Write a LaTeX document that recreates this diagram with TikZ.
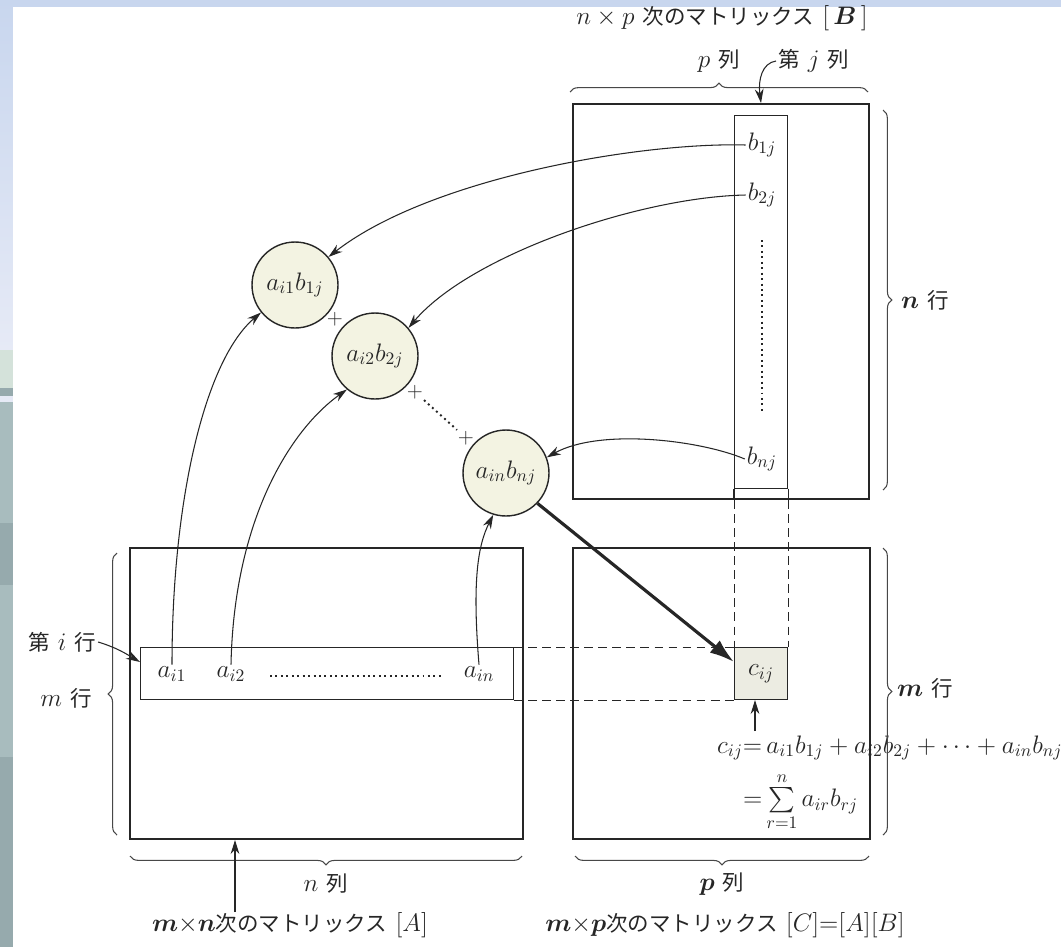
\documentclass[tikz,border=0pt]{standalone}
\usepackage{amsmath,bm}
\usepackage{fontspec}
\newfontfamily\jp{Noto Sans CJK JP}[Scale=0.85]
\usetikzlibrary{decorations.pathreplacing,arrows.meta,calc}
\definecolor{ink}{RGB}{38,38,38}
\definecolor{circfill}{RGB}{243,243,226}
\definecolor{cfill}{RGB}{236,236,226}
\definecolor{bgtop}{RGB}{200,214,238}
\definecolor{bgmid}{RGB}{230,234,246}
\definecolor{bggreen}{RGB}{212,226,218}
\definecolor{bgdark}{RGB}{150,170,173}
\definecolor{bglight}{RGB}{168,188,190}
\newcommand{\fs}{\fontsize{14.4}{16}\selectfont}
\tikzset{
  mat/.style={rectangle, draw=ink, line width=1.2pt, anchor=north west, inner sep=0pt},
  thinbox/.style={rectangle, draw=ink, line width=0.6pt, anchor=north west, inner sep=0pt},
  prod/.style={circle, draw=ink, line width=0.8pt, fill=circfill, minimum size=1.72cm, inner sep=0pt, font=\fs, text=ink},
  lbl/.style={font=\fs, text=ink, inner sep=1pt},
  plus/.style={font=\fontsize{12}{14}\selectfont, text=ink, inner sep=0.5pt},
  conn/.style={draw=ink, line width=0.6pt, -{Stealth[length=8pt,width=5pt]}},
  brc/.style={draw=ink!85, line width=0.6pt, decorate, decoration={brace, amplitude=5pt}},
  guide/.style={draw=ink, line width=0.5pt, dash pattern=on 5pt off 3pt},
}
\begin{document}
\begin{tikzpicture}[x=0.02cm, y=-0.02cm]
\useasboundingbox (0,0) rectangle (1061,947);
% background frame
\fill[bgtop] (0,0) rectangle (1061,7);
\shade[top color=bgtop, bottom color=bgmid] (0,0) rectangle (13,350);
\fill[bggreen] (0,350) rectangle (13,388);
\fill[bgdark] (0,388) rectangle (13,396);
\fill[bgmid] (0,396) rectangle (13,402);
\fill[bglight] (0,402) rectangle (13,523);
\fill[bgdark] (0,523) rectangle (13,585);
\fill[bglight] (0,585) rectangle (13,757);
\fill[bgdark] (0,757) rectangle (13,947);
\fill[white] (13,7) rectangle (1061,947);

% matrices
\node[mat, minimum width=5.92cm, minimum height=7.90cm] (B) at (572,103) {};
\node[mat, minimum width=7.86cm, minimum height=5.82cm] (A) at (129,547) {};
\node[mat, minimum width=5.94cm, minimum height=5.82cm] (C) at (572,547) {};
\node[thinbox, minimum width=1.06cm, minimum height=7.46cm] (col) at (734,115) {};
\node[thinbox, minimum width=7.46cm, minimum height=1.04cm] (row) at (140,647) {};
\node[thinbox, fill=cfill, minimum width=1.06cm, minimum height=1.04cm] (cij) at (734,647) {};
\node[lbl] at (cij.center) {$c_{ij}$};

% column sides down to B bottom, then guides
\draw[ink, line width=0.6pt] (col.south west) -- (col.south west |- B.south);
\draw[ink, line width=0.6pt] (col.south east) -- (col.south east |- B.south);
\draw[guide] (col.south west |- B.south) -- (cij.north west);
\draw[guide] (col.south east |- B.south) -- (cij.north east);
\draw[guide] (row.north east) -- (cij.north west);
\draw[guide] (row.south east) -- (cij.south west);

% entries of B
\node[lbl] (b1) at (762,145) {$b_{1j}$};
\node[lbl] (b2) at (762,195) {$b_{2j}$};
\node[lbl] (bn) at (762,459) {$b_{nj}$};
\coordinate (bd1) at (762,240);
\coordinate (bd2) at (762,413);
\draw[ink, line width=1.1pt, dotted] (bd1) -- (bd2);

% entries of A row
\node[lbl] (a1) at (172,674) {$a_{i1}$};
\node[lbl] (a2) at (231,674) {$a_{i2}$};
\node[lbl] (an) at (479,674) {$a_{in}$};
\coordinate (ad1) at (270,676);
\coordinate (ad2) at (442,676);
\draw[ink, line width=1.1pt, dotted] (ad1) -- (ad2);

% products
\node[prod] (c1) at (295,285) {$a_{i1}b_{1j}$};
\node[prod] (c2) at (375,356) {$a_{i2}b_{2j}$};
\node[prod] (c3) at (506,473) {$a_{in}b_{nj}$};
\node[plus] (p1) at (335,319) {$+$};
\node[plus] (p2) at (415,392) {$+$};
\node[plus] (p3) at (466,438) {$+$};
\draw[ink, line width=1.1pt, dotted] (p2) -- (p3);

% connectors
\draw[conn] (b1.west) .. controls (640,142) and (430,178) .. (c1.40);
\draw[conn] (b2.west) .. controls (640,197) and (470,255) .. (c2.40);
\draw[conn] (bn.west) .. controls (700,440) and (600,428) .. (c3.21);
\draw[conn] (a1.north) .. controls (172,500) and (205,360) .. (c1.219);
\draw[conn] (a2.north) .. controls (234,520) and (290,430) .. (c2.230);
\draw[conn] (an.north) .. controls (472,580) and (478,545) .. (c3.253);
\draw[draw=ink, line width=1.8pt, -{Latex[length=14pt,width=9pt]}] (c3.316) -- ([yshift=-0.3cm]cij.north west);

% formula
\node[lbl, anchor=west] (f1) at (715,748) {$c_{ij}{=}\,a_{i1}b_{1j}+a_{i2}b_{2j}+\cdots+a_{in}b_{nj}$};
\node[lbl, anchor=west] (f2) at (741,802) {${=}\sum\limits_{r=1}^{n}a_{ir}b_{rj}$};
\coordinate (fa) at (755,731);
\draw[conn] (fa) -- (fa |- cij.south);

% braces
\draw[brc] (570,92) -- (868,92);
\draw[brc] (883,110) -- (883,490);
\draw[brc] (117,835) -- (117,553);
\draw[brc] (522,856) -- (130,856);
\draw[brc] (883,548) -- (883,835);
\draw[brc] (869,856) -- (575,856);

% labels
\node[lbl] (tB) at (722,18) {$n\times p$ {\jp 次のマトリックス} $[\,\bm{B}\,]$};
\node[lbl] (pcol) at (719,61) {$p$ {\jp 列}};
\node[lbl, anchor=west] (jl) at (776,61) {{\jp 第} $j$ {\jp 列}};
\draw[conn] (jl.west) .. controls (762,63) and (758,80) .. (col.north |- B.north);
\node[lbl] (nrow) at (925,300) {$\bm{n}$ {\jp 行}};
\node[lbl] (il) at (62,642) {{\jp 第} $i$ {\jp 行}};
\draw[conn] (il.east) .. controls (118,648) and (128,655) .. (row.west |- 0,662);
\node[lbl] (mrowA) at (66,698) {$m$ {\jp 行}};
\node[lbl] (mrowC) at (925,688) {$\bm{m}$ {\jp 行}};
\node[lbl] (ncol) at (326,884) {$n$ {\jp 列}};
\node[lbl] (pcolC) at (722,884) {$\bm{p}$ {\jp 列}};
\node[lbl] (tA) at (290,925) {$\bm{m}{\times}\bm{n}${\jp 次のマトリックス} $[A]$};
\node[lbl] (tC) at (725,925) {$\bm{m}{\times}\bm{p}${\jp 次のマトリックス} $[C]{=}[A][B]$};
\coordinate (aa) at (235,912);
\draw[conn] (aa) -- (aa |- A.south);
\end{tikzpicture}
\end{document}
